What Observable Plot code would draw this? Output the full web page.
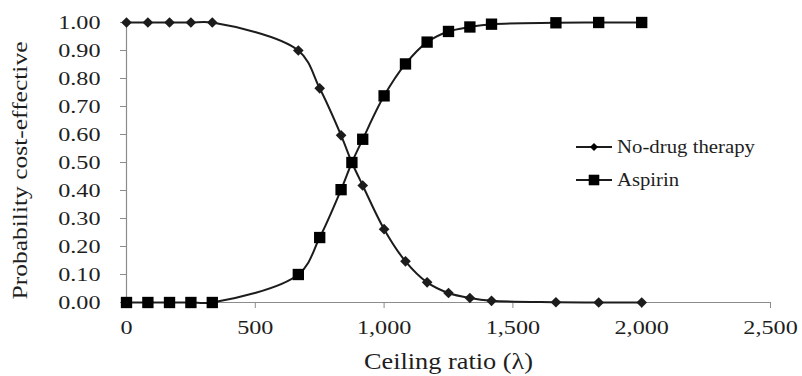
<!DOCTYPE html>
<html><head><meta charset="utf-8">
<script src="https://cdn.jsdelivr.net/npm/d3@7"></script>
<script src="https://cdn.jsdelivr.net/npm/@observablehq/plot@0.6"></script>
<style>
html,body{margin:0;padding:0;background:#fff;}
#wrap{position:relative;width:802px;height:376px;}
#legend{position:absolute;left:0;top:0;pointer-events:none;}
</style></head><body><div id="wrap"></div>
<script>
// Ceiling ratio (λ) values
const ceilingRatio = [0, 83, 167, 250, 333, 667, 750, 833, 875, 917, 1000, 1083, 1167, 1250, 1333, 1417, 1667, 1833, 2000];
// Probability cost-effective, per strategy
const noDrug  = [1, 1, 1, 1, 1, 0.90, 0.765, 0.597, 0.50, 0.418, 0.262, 0.147, 0.072, 0.034, 0.016, 0.006, 0.001, 0.000, 0.000];
const aspirin = [0, 0, 0, 0, 0, 0.10, 0.232, 0.403, 0.50, 0.583, 0.738, 0.852, 0.930, 0.968, 0.984, 0.994, 0.999, 1.000, 1.000];
const seriesNames = ["No-drug therapy", "Aspirin"];
const xTicks = [0, 500, 1000, 1500, 2000, 2500];
const yTicks = [0, 0.1, 0.2, 0.3, 0.4, 0.5, 0.6, 0.7, 0.8, 0.9, 1.0];
const xTitle = "Ceiling ratio (λ)";
const yTitle = "Probability cost-effective";

const rows = [];
ceilingRatio.forEach((x, i) => {
  rows.push({x, p: noDrug[i], s: seriesNames[0]});
  rows.push({x, p: aspirin[i], s: seriesNames[1]});
});

const ink = "#1c1c1c", axisGray = "#8c8c8c";
const serif = "'Liberation Serif', 'Times New Roman', serif";

const chart = Plot.plot({
  width: 802, height: 376,
  marginLeft: 126, marginRight: 32, marginTop: 22, marginBottom: 74,
  style: {fontFamily: serif, fontSize: "19.5px", color: "#1e1e1e", background: "#fff"},
  x: {domain: [0, 2500]},
  y: {domain: [0, 1]},
  marks: [
    Plot.axisY({ticks: yTicks, tickFormat: d3.format(".2f"), tickSize: 6, tickPadding: 20, label: null, stroke: axisGray}),
    Plot.axisX({ticks: xTicks, tickFormat: d3.format(","), tickSize: 6, tickPadding: 12, label: null, stroke: axisGray}),
    Plot.ruleX([0], {stroke: axisGray, strokeWidth: 1.2}),
    Plot.ruleY([0], {stroke: axisGray, strokeWidth: 1.2}),
    Plot.line(rows, {x: "x", y: "p", z: "s", curve: "catmull-rom", stroke: ink, strokeWidth: 2}),
    Plot.dot(rows.filter(d => d.s === seriesNames[0]), {x: "x", y: "p", symbol: "diamond2", r: 4.8, fill: ink, stroke: null}),
    Plot.dot(rows.filter(d => d.s === seriesNames[1]), {x: "x", y: "p", symbol: "square", r: 6.4, fill: "#000", stroke: null}),
    Plot.text([yTitle], {text: d => d, frameAnchor: "left", textAnchor: "middle", dx: -107, dy: 8, rotate: -90, fontSize: 22, lineAnchor: "middle"}),
    Plot.text([xTitle], {text: d => d, frameAnchor: "bottom", textAnchor: "middle", dy: 59, fontSize: 24, lineAnchor: "middle"})
  ]
});
document.getElementById("wrap").appendChild(chart);

// Legend overlay
const leg = d3.select("#wrap").append("svg").attr("id", "legend")
  .attr("width", 802).attr("height", 376)
  .style("font-family", serif);
const legendItems = [
  {name: seriesNames[0], sym: d3.symbolDiamond2, size: 42, y: 147, target: 138},
  {name: seriesNames[1], sym: d3.symbolSquare, size: 112, y: 180, target: 62}
];
legendItems.forEach(it => {
  const g = leg.append("g");
  g.append("line").attr("x1", 576).attr("x2", 612).attr("y1", it.y).attr("y2", it.y)
    .attr("stroke", ink).attr("stroke-width", 2);
  g.append("path").attr("d", d3.symbol(it.sym, it.size)()).attr("transform", `translate(594,${it.y})`).attr("fill", "#000");
  g.append("text").attr("x", 617).attr("y", it.y).attr("dy", "0.32em")
    .attr("font-size", 19.5).attr("fill", "#1e1e1e").attr("data-target", it.target).text(it.name);
});

// Widen glyphs to match the reference's wide serif lettering
const targets = {[xTitle]: 169, [yTitle]: 258};
document.querySelectorAll("#wrap text").forEach(t => {
  const w = t.getComputedTextLength();
  if (!w) return;
  let target = t.getAttribute("data-target");
  target = target ? +target : (targets[t.textContent] || w * 1.24);
  t.setAttribute("textLength", target);
  t.setAttribute("lengthAdjust", "spacingAndGlyphs");
});
</script></body></html>
